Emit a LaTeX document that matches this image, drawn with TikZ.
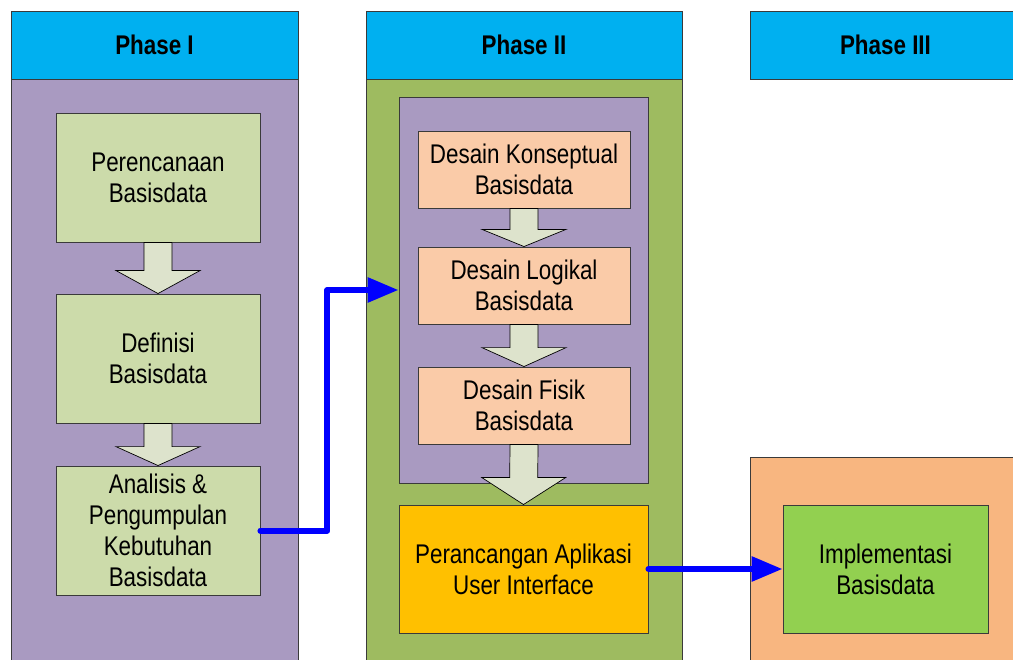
\documentclass[tikz,border=0pt]{standalone}
\usepackage{fontspec}
\setmainfont{Liberation Sans}[FakeStretch=0.83]
\usetikzlibrary{arrows.meta,calc}

\definecolor{headcyan}{HTML}{00B0F0}
\definecolor{phasepurple}{HTML}{A99AC1}
\definecolor{phasegreen}{HTML}{9EBB60}
\definecolor{phaseorange}{HTML}{F8B680}
\definecolor{stepgreen}{HTML}{CCDBAA}
\definecolor{steppeach}{HTML}{FACBA8}
\definecolor{stepgold}{HTML}{FFC000}
\definecolor{steplime}{HTML}{92D050}
\definecolor{arrowfill}{HTML}{DDE3CC}
\definecolor{edge}{HTML}{3A3A3A}

% fat block arrow from one box down to the next
\newcommand{\downblock}[2]{%
  \coordinate (s) at (#1.south);
  \coordinate (t) at (#2.north);
  \coordinate (m) at ($(s)!0.55!(t)$);
  \draw[blockarrow] ($(s)+(-14,0)$) -- ($(m)+(-14,0)$) -- ($(m)+(-42,0)$) -- (t)
    -- ($(m)+(42,0)$) -- ($(m)+(14,0)$) -- ($(s)+(14,0)$) -- cycle;}

\begin{document}
\begin{tikzpicture}[x=1pt, y=-1pt,
  box/.style = {draw=edge, line width=0.9pt, inner sep=0pt, align=center,
    font=\fontsize{27}{31}\selectfont},
  head/.style = {box, fill=headcyan, minimum height=68pt, font=\fontsize{27}{31}\selectfont\bfseries},
  blockarrow/.style = {draw=black, line width=0.7pt, fill=arrowfill},
  flow/.style = {draw=blue, line width=6pt, line cap=round, line join=round,
    -{Triangle[length=31pt, width=24pt]}}]
\useasboundingbox (0,0) rectangle (1013,660);
\clip (0,0) rectangle (1013,660);
\fill[white] (0,0) rectangle (1013,660);

% columns
\node[box, fill=phasepurple, minimum width=287pt, minimum height=601pt] (col1) at (154.5,379.5) {};
\node[box, fill=phasegreen, minimum width=316pt, minimum height=601pt] (col2) at (524,379.5) {};
\node[box, fill=phaseorange, minimum width=271pt, minimum height=223pt] (col3) at (885.5,568.5) {};
\node[head, minimum width=287pt] (h1) at (154.5,45) {Phase I};
\node[head, minimum width=316pt] (h2) at (524,45) {Phase II};
\node[head, minimum width=271pt] (h3) at (885.5,45) {Phase III};

% phase I
\node[box, fill=stepgreen, minimum width=204pt, minimum height=129pt] (plan) at (158,177.5) {Perencanaan\\Basisdata};
\node[box, fill=stepgreen, minimum width=204pt, minimum height=129pt] (def) at (158,358.5) {Definisi\\Basisdata};
\node[box, fill=stepgreen, minimum width=204pt, minimum height=129pt] (ana) at (158,530.5) {Analisis \&\\Pengumpulan\\Kebutuhan\\Basisdata};

% phase II
\node[box, fill=phasepurple, minimum width=249pt, minimum height=386pt] (design) at (523.5,290) {};
\node[box, fill=steppeach, minimum width=212pt, minimum height=77pt] (konsep) at (524,169.5) {Desain Konseptual\\Basisdata};
\node[box, fill=steppeach, minimum width=212pt, minimum height=77pt] (logik) at (524,285.5) {Desain Logikal\\Basisdata};
\node[box, fill=steppeach, minimum width=212pt, minimum height=77pt] (fisik) at (524,405.5) {Desain Fisik\\Basisdata};
\node[box, fill=stepgold, minimum width=249pt, minimum height=128pt] (ui) at (523.5,569) {Perancangan Aplikasi\\User Interface};

% phase III
\node[box, fill=steplime, minimum width=205pt, minimum height=128pt] (impl) at (885.5,569) {Implementasi\\Basisdata};

\downblock{plan}{def}
\downblock{def}{ana}
\downblock{konsep}{logik}
\downblock{logik}{fisik}
\downblock{fisik}{ui}

\draw[flow] (ana.east) -- ++(67,0) |- (design.west);
\draw[flow] (ui.east) -- (impl.west);
\end{tikzpicture}
\end{document}
